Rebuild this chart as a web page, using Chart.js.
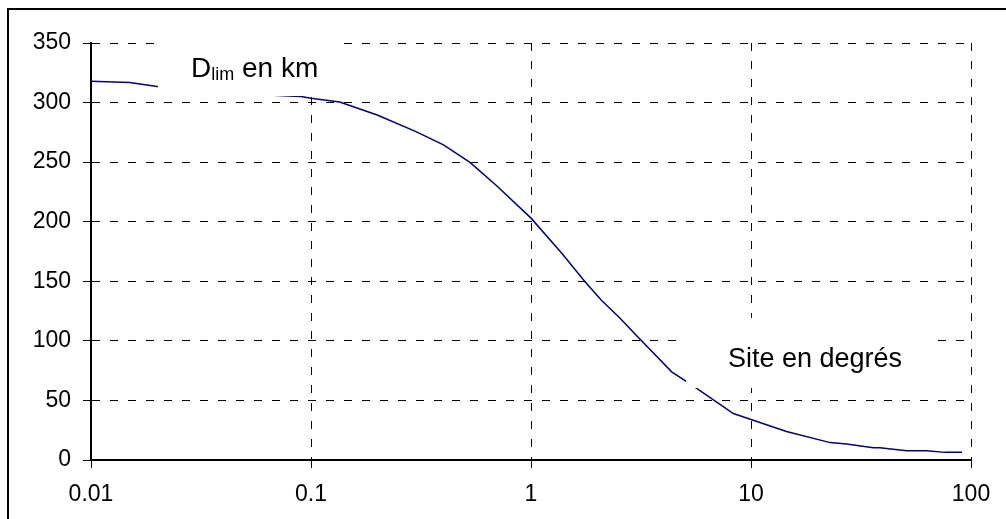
<!DOCTYPE html>
<html>
<head>
<meta charset="utf-8">
<script src="https://cdn.jsdelivr.net/npm/chart.js@4/dist/chart.umd.min.js"></script>
<style>
  html, body { margin: 0; padding: 0; background: #fff; overflow: hidden; }
  #frame { position: absolute; left: 7px; top: 8px; width: 1200px; height: 700px;
           border: 2px solid #000; pointer-events: none; }
  canvas { position: absolute; left: 0; top: 0; }
</style>
</head>
<body>
<canvas id="chart" width="1006" height="519"></canvas>
<div id="frame"></div>
<script>
// site angle (degrees) and limit distance (km)
const siteDeg = [0.01, 0.015, 0.02, 0.03, 0.05, 0.067, 0.09, 0.1, 0.135, 0.2, 0.3, 0.4, 0.53,
                 0.7, 1, 1.38, 1.76, 2.09, 2.54, 3, 4.36, 5.37, 6.75, 8.31, 10, 14.5, 22.9,
                 27.2, 36, 38.5, 51, 63, 76, 91];
const dLimKm = [318, 316.8, 313.5, 311.5, 309.5, 306.2, 305, 303.6, 300.5, 289.6, 275.6, 264.5, 249.6,
                230, 203, 173.5, 149.7, 134, 119, 105, 74, 63, 50.5, 39, 34, 24, 14.6,
                13.4, 10.3, 10.3, 7.8, 7.8, 6.4, 6.4];
const xTicks = [0.01, 0.1, 1, 10, 100];
const yMin = 0, yMax = 350, yStep = 50;

const points = siteDeg.map((x, i) => ({ x: x, y: dLimKm[i] }));

const FONT = "'Liberation Sans', Arial, sans-serif";

// text boxes drawn over the plot (Excel style, white filled)
const labelsPlugin = {
  id: 'labels',
  afterDatasetsDraw(chart) {
    const ctx = chart.ctx;
    ctx.save();
    ctx.fillStyle = '#fff';
    ctx.fillRect(158, 26, 182, 70);
    ctx.fillRect(686, 318, 251, 70);

    ctx.fillStyle = '#000';
    ctx.textBaseline = 'alphabetic';
    ctx.textAlign = 'left';
    let x = 191;
    ctx.font = '28px ' + FONT;
    ctx.fillText('D', x, 77);
    x += ctx.measureText('D').width;
    ctx.font = '18px ' + FONT;
    ctx.fillText('lim', x, 80);
    x += ctx.measureText('lim').width;
    ctx.font = '28px ' + FONT;
    ctx.fillText(' en km', x, 77);

    ctx.font = '27px ' + FONT;
    ctx.fillText('Site en degrés', 728, 367);
    ctx.restore();
  }
};

new Chart(document.getElementById('chart'), {
  type: 'line',
  data: {
    datasets: [{
      data: points,
      borderColor: '#000080',
      borderWidth: 1.5,
      pointRadius: 0,
      tension: 0,
      fill: false
    }]
  },
  options: {
    responsive: false,
    animation: false,
    layout: { padding: { top: 43, right: 35, left: 0, bottom: 0 } },
    plugins: { legend: { display: false }, tooltip: { enabled: false } },
    scales: {
      x: {
        type: 'logarithmic',
        min: 0.01,
        max: 100,
        afterBuildTicks: (scale) => { scale.ticks = xTicks.map(v => ({ value: v })); },
        afterFit: (scale) => { scale.height = 59; },
        ticks: {
          color: '#000',
          font: { family: FONT, size: 23 },
          padding: 13,
          maxRotation: 0,
          callback: (v) => String(v)
        },
        grid: { color: '#000', lineWidth: 1, tickLength: 8, tickColor: '#000' },
        border: { display: true, color: '#000', width: 2, dash: [8, 10] }
      },
      y: {
        min: yMin,
        max: yMax,
        afterFit: (scale) => { scale.width = 91; },
        ticks: {
          stepSize: yStep,
          color: '#000',
          font: { family: FONT, size: 23 },
          padding: 12
        },
        grid: { color: '#000', lineWidth: 1, tickLength: 8, tickColor: '#000' },
        border: { display: true, color: '#000', width: 2, dash: [8, 10] }
      }
    }
  },
  plugins: [labelsPlugin]
});
</script>
</body>
</html>
